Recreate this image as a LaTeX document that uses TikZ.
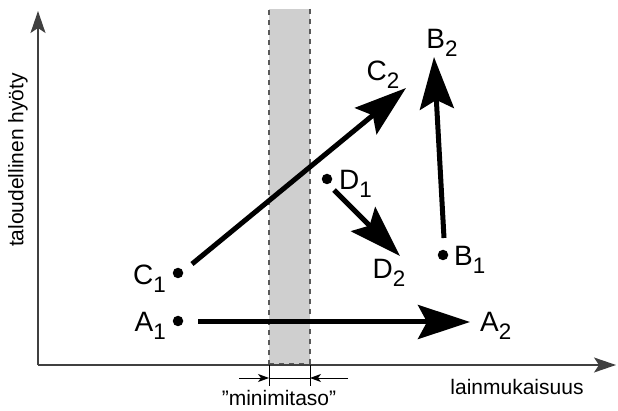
\documentclass[tikz,border=0pt]{standalone}
\usepackage{fontspec}
\setmainfont{Liberation Sans}
\usetikzlibrary{arrows.meta}
\newcommand\subx[1]{\raisebox{-0.3em}{\scalebox{0.8}{#1}}}
\tikzset{
  bigarrow/.style={line width=5pt,-{Stealth[length=52pt,width=34pt,inset=9pt]}},
  axisline/.style={line width=1.3pt,draw=black!75,-{Stealth[length=22pt,width=15pt,inset=5pt]}},
  ptdot/.style={circle,fill=black,inner sep=0pt,minimum size=10.5pt},
  ptlabel/.style={font=\fontsize{28}{30}\selectfont,inner sep=0pt},
  axlabel/.style={font=\fontsize{21}{24}\selectfont,inner sep=0pt},
  dimline/.style={line width=0.8pt},
  dimarrow/.style={line width=0.8pt,-{Stealth[length=11pt,width=8pt,inset=3pt]}},
  bandedge/.style={line width=1.3pt,draw=black!65,dash pattern=on 5pt off 5pt},
}
\begin{document}
\begin{tikzpicture}[x=1pt,y=-1pt]
\useasboundingbox (0,0) rectangle (618,411);
% band
\fill[black!19] (269,9) rectangle (310,365);
\draw[bandedge] (269,365) -- (269,9) (310,9) -- (310,365) (269,364) -- (310,364);
% axes
\coordinate (O) at (38,365);
\coordinate (Ytop) at (38,11);
\coordinate (Xend) at (616,365);
\draw[axisline] (O) -- (Ytop);
\draw[axisline] (O) -- (Xend);
% dimension
\coordinate (t1a) at (269,365); \coordinate (t1b) at (269,386);
\coordinate (t2a) at (310,365); \coordinate (t2b) at (310,386);
\draw[dimline] (t1a) -- (t1b) (t2a) -- (t2b);
\coordinate (dl) at (239,378); \coordinate (dl2) at (269,378);
\coordinate (dr) at (348,378); \coordinate (dr2) at (310,378);
\draw[dimline] (dl2) -- (dr2);
\draw[dimarrow] (dl) -- (dl2);
\draw[dimarrow] (dr) -- (dr2);
\node[axlabel] (mini) at (279,398) {”minimitaso”};
\node[axlabel] (xl) at (517,387) {lainmukaisuus};
\node[axlabel,rotate=90] (yl) at (18,160) {taloudellinen hyöty};
% points
\node[ptdot] (A1) at (178,321) {};
\node[ptdot] (C1) at (178,273) {};
\node[ptdot] (D1) at (327,179) {};
\node[ptdot] (B1) at (443,255) {};
\node[ptlabel,anchor=east] (A1l) at (166,326) {A\subx{1}};
\node[ptlabel,anchor=east] (C1l) at (166,279) {C\subx{1}};
\node[ptlabel,anchor=west] (D1l) at (339,184) {D\subx{1}};
\node[ptlabel,anchor=west] (B1l) at (454,260) {B\subx{1}};
\node[ptlabel,anchor=west] (A2l) at (480,326) {A\subx{2}};
\node[ptlabel] (C2l) at (383,75) {C\subx{2}};
\node[ptlabel] (D2l) at (389,273) {D\subx{2}};
\node[ptlabel] (B2l) at (442,43) {B\subx{2}};
% arrows
\coordinate (As) at (198,322); \coordinate (Ae) at (470,322);
\coordinate (Cs) at (192,264); \coordinate (Ce) at (406,88);
\coordinate (Ds) at (334,190); \coordinate (De) at (400,256);
\coordinate (Bs) at (444,238); \coordinate (Be) at (434,57);
\draw[bigarrow] (As) -- (Ae);
\draw[bigarrow] (Cs) -- (Ce);
\draw[bigarrow] (Ds) -- (De);
\draw[bigarrow] (Bs) -- (Be);
\end{tikzpicture}
\end{document}
